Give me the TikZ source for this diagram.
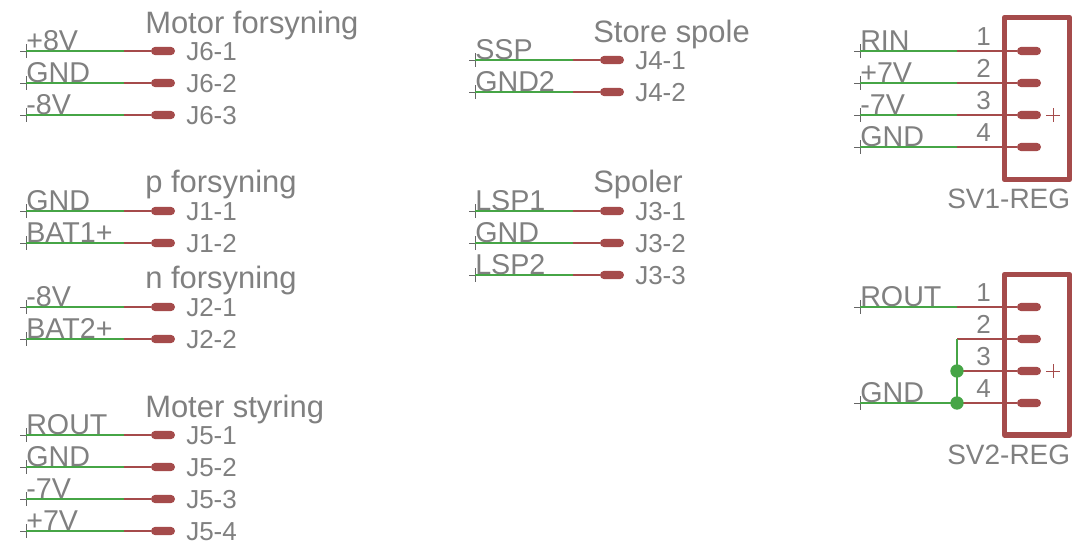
\documentclass[tikz,border=0pt]{standalone}
\usepackage{fontspec}
\setmainfont{Liberation Sans}
\usepackage{xcolor}
\usepackage{tikz}
\usetikzlibrary{positioning,shapes,calc}

\definecolor{netgreen}{RGB}{70,165,70}
\definecolor{pinred}{RGB}{165,75,75}
\definecolor{textgray}{RGB}{128,128,128}

\tikzset{
    net/.style={draw=netgreen, line width=1.8pt},
    pin/.style={draw=pinred, line width=1.8pt},
    origin/.style={draw=textgray!80!black, line width=0.5pt},
    pad/.style={rounded rectangle, fill=pinred, minimum width=18pt, minimum height=6.2pt, inner sep=0pt},
    junction/.style={circle, fill=netgreen, minimum size=10pt, inner sep=0pt},
    title/.style={anchor=base west, inner sep=0pt, text=textgray, font=\fontsize{23.2}{24}\selectfont},
    netname/.style={anchor=base west, inner sep=0pt, text=textgray, font=\fontsize{21.5}{24}\selectfont},
    pinname/.style={anchor=base west, inner sep=0pt, text=textgray, font=\fontsize{19.5}{24}\selectfont},
    regname/.style={anchor=base east, inner sep=0pt, text=textgray, font=\fontsize{19.5}{24}\selectfont},
    reglabel/.style={anchor=base west, inner sep=0pt, text=textgray, font=\fontsize{21}{24}\selectfont},
    housing/.style={draw=pinred, line width=4pt, line join=round}
}

% name, x, y, net, pin
\newcommand{\pinrow}[5]{
    \coordinate (#1a) at (#2,#3);
    \coordinate (#1b) at ($(#1a)+(98,0)$);
    \node[pad] (#1p) at ($(#1a)+(137,0)$) {};
    \draw[origin] ($(#1a)+(-6,0)$) -- ($(#1a)+(6,0)$) ($(#1a)+(0,-7)$) -- ($(#1a)+(0,7)$);
    \draw[net] (#1a) -- (#1b);
    \draw[pin] (#1b) -- (#1p);
    \node[netname] (#1n) at ($(#1a)+(0,-1)$) {#4};
    \node[pinname] (#1l) at ($(#1a)+(160,9)$) {#5};
}

% name, y, number (pin only, the net is drawn apart)
\newcommand{\regpin}[3]{
    \coordinate (#1b) at (957,#2);
    \node[pad] (#1p) at (1029,#2) {};
    \draw[pin] (#1b) -- (#1p);
    \node[regname] (#1l) at (991,#2-6) {#3};
}

% name, y, net
\newcommand{\regnet}[3]{
    \coordinate (#1a) at (860,#2);
    \draw[origin] ($(#1a)+(-6,0)$) -- ($(#1a)+(6,0)$) ($(#1a)+(0,-7)$) -- ($(#1a)+(0,7)$);
    \draw[net] (#1a) -- (#1b);
    \node[netname] (#1n) at ($(#1a)+(0,-1)$) {#3};
}

\begin{document}
\begin{tikzpicture}[x=0.75pt,y=-0.75pt]
    \useasboundingbox (0,0) rectangle (1081,557);

    % left column
    \node[title] (motor) at (145,33) {Motor forsyning};
    \pinrow{jsixa}{26}{51}{+8V}{J6-1}
    \pinrow{jsixb}{26}{83}{GND}{J6-2}
    \pinrow{jsixc}{26}{115}{-8V}{J6-3}

    \node[title] (pfors) at (145,192) {p forsyning};
    \pinrow{jonea}{26}{211}{GND}{J1-1}
    \pinrow{joneb}{26}{243}{BAT1+}{J1-2}

    \node[title] (nfors) at (145,288) {n forsyning};
    \pinrow{jtwoa}{26}{307}{-8V}{J2-1}
    \pinrow{jtwob}{26}{339}{BAT2+}{J2-2}

    \node[title] (styring) at (145,417) {Moter styring};
    \pinrow{jfivea}{26}{435}{ROUT}{J5-1}
    \pinrow{jfiveb}{26}{467}{GND}{J5-2}
    \pinrow{jfivec}{26}{499}{-7V}{J5-3}
    \pinrow{jfived}{26}{531}{+7V}{J5-4}

    % middle column
    \node[title] (store) at (593,42) {Store spole};
    \pinrow{jfoura}{475}{60}{SSP}{J4-1}
    \pinrow{jfourb}{475}{92}{GND2}{J4-2}

    \node[title] (spoler) at (593,192) {Spoler};
    \pinrow{jthreea}{475}{211}{LSP1}{J3-1}
    \pinrow{jthreeb}{475}{243}{GND}{J3-2}
    \pinrow{jthreec}{475}{275}{LSP2}{J3-3}

    % SV1
    \regpin{svaa}{51}{1}
    \regpin{svab}{83}{2}
    \regpin{svac}{115}{3}
    \regpin{svad}{147}{4}
    \regnet{svaa}{51}{RIN}
    \regnet{svab}{83}{+7V}
    \regnet{svac}{115}{-7V}
    \regnet{svad}{147}{GND}
    \draw[housing] (1004.5,17.5) rectangle (1069.5,179.5);
    \draw[pin, line width=0.5pt] (1046,115) -- (1060,115) (1053,108) -- (1053,122);
    \node[reglabel] (svone) at (947,208) {SV1-REG};

    % SV2
    \regpin{svba}{307}{1}
    \regpin{svbb}{339}{2}
    \regpin{svbc}{371}{3}
    \regpin{svbd}{403}{4}
    \regnet{svba}{307}{ROUT}
    \regnet{svbd}{403}{GND}
    \draw[net] (svbbb) -- (svbdb);
    \node[junction] (dotc) at (svbcb) {};
    \node[junction] (dotd) at (svbdb) {};
    \draw[housing] (1004.5,274.5) rectangle (1069.5,435);
    \draw[pin, line width=0.5pt] (1046,371) -- (1060,371) (1053,364) -- (1053,378);
    \node[reglabel] (svtwo) at (947,464) {SV2-REG};
\end{tikzpicture}
\end{document}
